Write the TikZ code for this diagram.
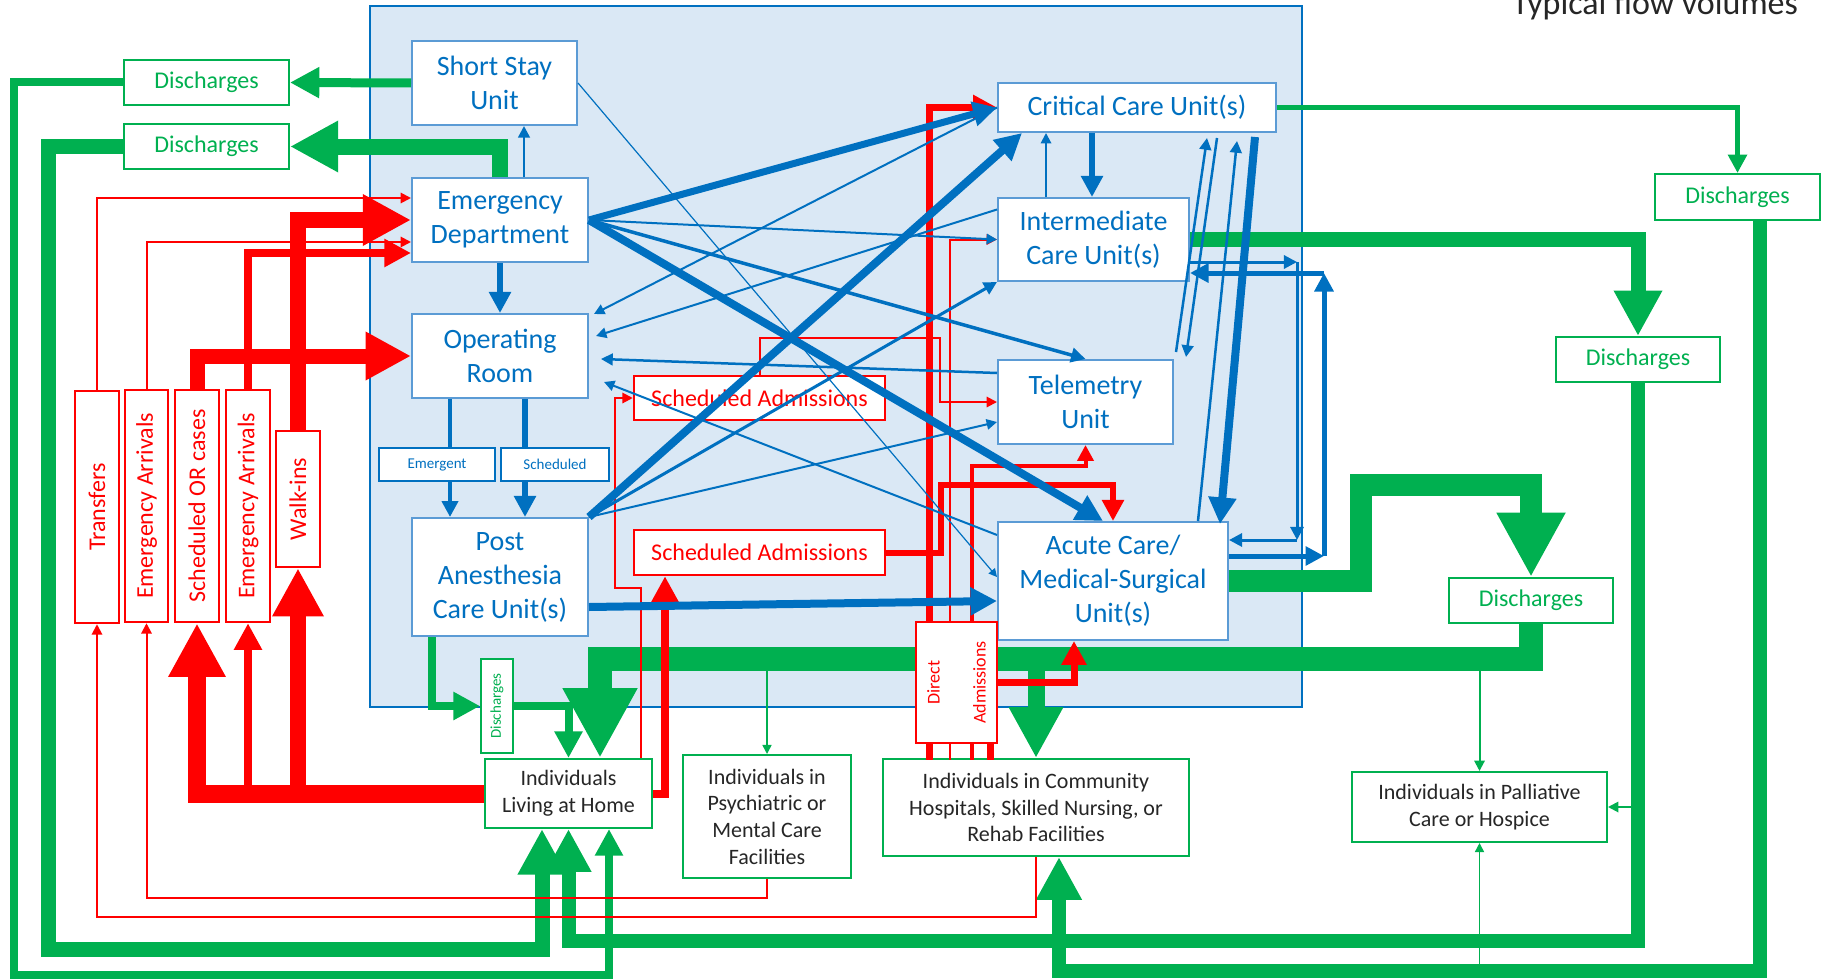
\documentclass[tikz,border=0pt]{standalone}
\usepackage{fontspec}
\setmainfont{Carlito}
\usetikzlibrary{arrows.meta}
\usetikzlibrary{calc}
\definecolor{flowblue}{RGB}{0,112,192}
\definecolor{unitedge}{RGB}{91,155,213}
\definecolor{hospfill}{RGB}{218,232,245}
\definecolor{flowgreen}{RGB}{0,176,80}
\definecolor{flowred}{RGB}{255,0,0}
\definecolor{inktext}{RGB}{38,38,38}
\tikzset{sz/.style 2 args={minimum width=#1pt, minimum height=#2pt}}
\tikzset{unit/.style={rectangle, draw=unitedge, line width=2pt, fill=white, text=flowblue,
   align=center, inner sep=0pt, font=\fontsize{28}{34}\selectfont}}
\tikzset{route/.style={rectangle, draw=flowblue, line width=2.5pt, fill=white, text=flowblue,
   inner sep=0pt, font=\fontsize{15}{18}\selectfont}}
\tikzset{src/.style={rectangle, draw=flowred, line width=2.5pt, fill=white, text=flowred,
   inner sep=0pt, font=\fontsize{24}{29}\selectfont}}
\tikzset{dis/.style={rectangle, draw=flowgreen, line width=2pt, fill=white, text=flowgreen,
   inner sep=0pt, font=\fontsize{24}{29}\selectfont}}
\tikzset{dest/.style={rectangle, draw=flowgreen, line width=2pt, fill=white, text=inktext,
   align=center, inner sep=0pt, font=\fontsize{22}{26.7}\selectfont}}
\tikzset{vred/.style={rotate=90, text=flowred, font=\fontsize{24}{29}\selectfont}}
\tikzset{arr/.style={-{Triangle[length=5pt 2.7, width=5pt 2.7]}}}
\tikzset{bl/.style={draw=flowblue, line width=#1pt}, bl/.default=2}
\tikzset{gr/.style={draw=flowgreen, line width=#1pt}, gr/.default=2}
\tikzset{rd/.style={draw=flowred, line width=#1pt}, rd/.default=2}

\begin{document}
\begin{tikzpicture}[x=1pt, y=-1pt]

    \useasboundingbox (0,0) rectangle (1822,979);
    \filldraw[fill=hospfill, draw=flowblue, line width=2pt] (370,6) rectangle (1302,707);
    \node[anchor=base west, inner sep=0pt, text=inktext, font=\fontsize{34}{40}\selectfont] (title) at (1512,15) {Typical flow volumes};

    % hospital units
    \node[unit, sz={165}{84}] (ssu) at (494.5,83) {Short Stay\\Unit};
    \node[unit, sz={176}{84}] (ed) at (500,220) {Emergency\\Department};
    \node[unit, sz={176}{84}] (orm) at (500,356) {Operating\\Room};
    \node[route, sz={116}{33}] (emg) at (437,464.5) {Emergent};
    \node[route, sz={108}{33}] (sch) at (555,464.5) {Scheduled};
    \node[unit, sz={176}{118}] (pacu) at (500,577) {Post\\Anesthesia\\Care Unit(s)};
    \node[unit, sz={278}{49}] (ccu) at (1137,107.5) {Critical Care Unit(s)};
    \node[unit, sz={191}{83}] (imcu) at (1093.5,239.5) {Intermediate\\Care Unit(s)};
    \node[unit, sz={175}{84}] (tele) at (1085.5,402) {Telemetry\\Unit};
    \node[unit, sz={230}{118}] (acute) at (1113,581) {Acute Care/\\Medical-Surgical\\Unit(s)};
    \node[src, sz={251}{44}] (sadm1) at (759.5,398) {Scheduled Admissions};
    \node[src, sz={251}{45}] (sadm2) at (759.5,552.5) {Scheduled Admissions};

    % arrivals
    \node[src, sz={44}{232}, label={[vred]center:Transfers}] (trans) at (97,507) {};
    \node[src, sz={43}{232}, label={[vred]center:Emergency Arrivals}] (ea1) at (146.5,506) {};
    \node[src, sz={44}{232}, label={[vred]center:Scheduled OR cases}] (sor) at (197,506) {};
    \node[src, sz={44}{232}, label={[vred]center:Emergency Arrivals}] (ea2) at (248,506) {};
    \node[src, sz={44}{136}, label={[vred]center:Walk-ins}] (walk) at (298,499) {};

    % discharges
    \node[dis, sz={165}{45}] (dis1) at (206.5,82.5) {Discharges};
    \node[dis, sz={165}{45}] (dis2) at (206.5,146.5) {Discharges};
    \node[dis, sz={165}{46}] (dis3) at (1737.5,197) {Discharges};
    \node[dis, sz={164}{45}] (dis4) at (1638,359.5) {Discharges};
    \node[dis, sz={164}{45}] (dis5) at (1531,600.5) {Discharges};
    \node[dis, sz={32}{94}, label={[rotate=90, text=flowgreen, font=\fontsize{15}{18}\selectfont]center:Discharges}] (dis6) at (497,706) {};

    % community
    \node[dest, sz={167}{69}] (home) at (568.5,793.5) {Individuals\\Living at Home};
    \node[dest, sz={168}{123}] (psych) at (767,816.5) {Individuals in\\Psychiatric or\\Mental Care\\Facilities};
    \node[dest, sz={306}{97}] (comm) at (1036,807.5) {Individuals in Community\\Hospitals, Skilled Nursing, or\\Rehab Facilities};
    \node[dest, sz={255}{70}] (pall) at (1479.5,807) {Individuals in Palliative\\Care or Hospice};

    % discharge flows
    \draw[gr=9, arr] (ssu.west) -- (dis1.east);
    \draw[gr=8, arr] (dis1.west) -| (14,975) -| ($(home.south)+(40.5,0)$);
    \draw[gr=16, arr] (ed.north) |- (dis2.east);
    \draw[gr=15, arr] (dis2.west) -| (48,949) -| ($(home.south)+(-26.5,0)$);
    \draw[gr=14, arr] (dis4.south) |- ($(home.south)+(0,111.5)$) -- (home.south);
    \draw[gr=2, arr] (dis4.south |- pall.east) -- (pall.east);
    \draw[gr=14, arr] ($(dis3.south)+(22.5,0)$) |- ($(comm.south)+(23,114)$) -- ($(comm.south)+(23,0)$);
    \draw[gr=1.5, arr] ($(pall.south)+(0,124)$) -- (pall.south);
    \draw[gr=5, arr] (ccu.east) -| (dis3.north);
    \draw[gr=15, arr] (imcu.east) -| (dis4.north);
    \draw[gr=22, arr] (acute.east) -| ($(dis5.north)+(-170,-92.5)$) -| (dis5.north);
    \draw[gr=24, arr] (dis5.south) |- ($(home.north)+(31.5,-99)$) -- ($(home.north)+(31.5,0)$);
    \draw[gr=1.5, arr] ($(psych.north)+(0,-95)$) -- (psych.north);
    \draw[gr=17, arr] ($(comm.north)+(0,-99)$) -- (comm.north);
    \draw[gr=2, arr] ($(pall.north)+(0,-112)$) -- (pall.north);
    \draw[gr=8, arr] ($(pacu.south)+(-68,0)$) |- (dis6.west);
    \draw[gr=8, arr] (dis6.east) -| (home.north);

    \node[src, sz={81}{121}, label={[vred, align=center, font=\fontsize{18}{22}\selectfont]center:Direct\\[24pt]Admissions}] (dadm) at (956.5,682.5) {};

    % admissions
    \draw[rd=18, arr] (home.west) -| (sor.south);
    \draw[rd=8, arr] (home.west -| ea2.south) -- (ea2.south);
    \draw[rd=16, arr] (home.west -| walk.south) -- (walk.south);
    \draw[rd=8, arr] (home.east) -| ($(sadm2.south)+(-94.5,0)$);
    \draw[rd=2, arr] ($(home.north)+(72.5,0)$) -- ++(0,-170) -| ($(sadm1.west)+(-18,0)$) -- (sadm1.west);
    \draw[rd=2, arr] (sadm1.north) -- ++(0,-37) -| ($(tele.west)+(-57,0)$) -- (tele.west);
    \draw[rd=6, arr] (sadm2.east) -| ($(acute.north)+(-172,-36)$) -| (acute.north);
    \foreach \dx/\w in {-27.5/7, -6.5/2, 15.5/4, 33.5/7}
      \draw[rd=\w] ($(dadm.south)+(\dx,0)$) -- ($(dadm.south)+(\dx,16)$);
    \draw[rd=7, arr] ($(dadm.north)+(-27.5,0)$) |- (ccu.west);
    \draw[rd=2, arr] ($(dadm.north)+(-6.5,0)$) |- (imcu.west);
    \draw[rd=4, arr] ($(dadm.north)+(15.5,0)$) |- ($(tele.south)+(0,21)$) -| (tele.south);
    \draw[rd=7, arr] (dadm.east) -| ($(acute.south)+(-39,0)$);
    \draw[rd=2, arr] (psych.south) |- ($(ea1.south)+(0,275)$) -- (ea1.south);
    \draw[rd=2, arr] (ea1.north) |- ($(ed.west)+(0,22)$);
    \draw[rd=2, arr] (comm.south) |- ($(trans.south)+(0,293)$) -- (trans.south);
    \draw[rd=2, arr] (trans.north) |- ($(ed.west)+(0,-22)$);
    \draw[rd=15, arr] (sor.north) |- (orm.west);
    \draw[rd=8, arr] (ea2.north) |- ($(ed.west)+(0,33)$);
    \draw[rd=16, arr] (walk.north) |- (ed.west);

    % transfers between units
    \draw[bl=2.5, arr] ($(ed.north)+(24,0)$) -- ($(ssu.south)+(29.5,0)$);
    \draw[bl=6, arr] (ed.south) -- (orm.north);
    \draw[bl=4] ($(orm.south)+(-50,0)$) -- ($(emg.north)+(13,0)$);
    \draw[bl=4, arr] ($(emg.south)+(13,0)$) -- ($(pacu.north)+(-50,0)$);
    \draw[bl=6] ($(orm.south)+(25,0)$) -- ($(sch.north)+(-30,0)$);
    \draw[bl=6, arr] ($(sch.south)+(-30,0)$) -- ($(pacu.north)+(25,0)$);
    \draw[bl=7, arr] (ed.east) -- (ccu.west);
    \draw[bl=2, arr] (ed.east) -- (imcu.west);
    \draw[bl=3.5, arr] (ed.east) -- (tele.north);
    \draw[bl=8, arr] (ed.east) -- ($(acute.north)+(-10,0)$);
    \draw[bl=8, arr] (pacu.north east) -- ($(ccu.south)+(-115,0)$);
    \draw[bl=3, arr] (pacu.north east) -- (imcu.south west);
    \draw[bl=2, arr] (pacu.north east) -- ($(tele.west)+(0,20)$);
    \draw[bl=8, arr] ($(pacu.east)+(0,30)$) -- ($(acute.west)+(0,20)$);
    \draw[bl=2, arr] (ccu.west) -- ($(orm.north east)+(5,1)$);
    \draw[bl=2, arr] ($(imcu.west)+(0,-30)$) -- ($(orm.east)+(7,-20)$);
    \draw[bl=2.5, arr] ($(tele.west)+(0,-29)$) -- ($(orm.east)+(12,3)$);
    \draw[bl=2, arr] ($(acute.north west)+(0,14)$) -- ($(orm.east)+(15,26)$);
    \draw[bl=1.2, arr] (ssu.east) -- ($(acute.west)+(0,-4)$);
    \draw[bl=6, arr] ($(ccu.south)+(-45,0)$) -- ($(imcu.north)+(-1.5,0)$);
    \draw[bl=2, arr] ($(imcu.north)+(-47.5,0)$) -- ($(ccu.south)+(-91,0)$);
    \draw[bl=2.5, arr] ($(tele.north east)+(2,-7)$) -- ($(ccu.south)+(70,5)$);
    \draw[bl=2.5, arr] ($(ccu.south)+(80,5)$) -- ($(tele.north east)+(12,-2)$);
    \draw[bl=2.5, arr] ($(acute.north)+(85,0)$) -- ($(ccu.south)+(100,8)$);
    \draw[bl=8, arr] ($(ccu.south)+(118,4)$) -- ($(acute.north)+(107,3)$);

    \coordinate (k1) at (1297,262);
    \coordinate (k2) at (1297,540);
    \coordinate (k3) at (1324,556);
    \coordinate (k4) at (1324,273);
    \draw[bl=3, arr] ($(imcu.east)+(0,22.5)$) -- (k1);
    \draw[bl=3, arr] (k1) -- (k2);
    \draw[bl=3, arr] (k2) -- ($(acute.east)+(0,-41)$);
    \draw[bl=5, arr] ($(acute.east)+(0,-25)$) -- (k3);
    \draw[bl=5, arr] (k3) -- (k4);
    \draw[bl=5, arr] (k4) -- ($(imcu.east)+(0,33.5)$);

\end{tikzpicture}
\end{document}
